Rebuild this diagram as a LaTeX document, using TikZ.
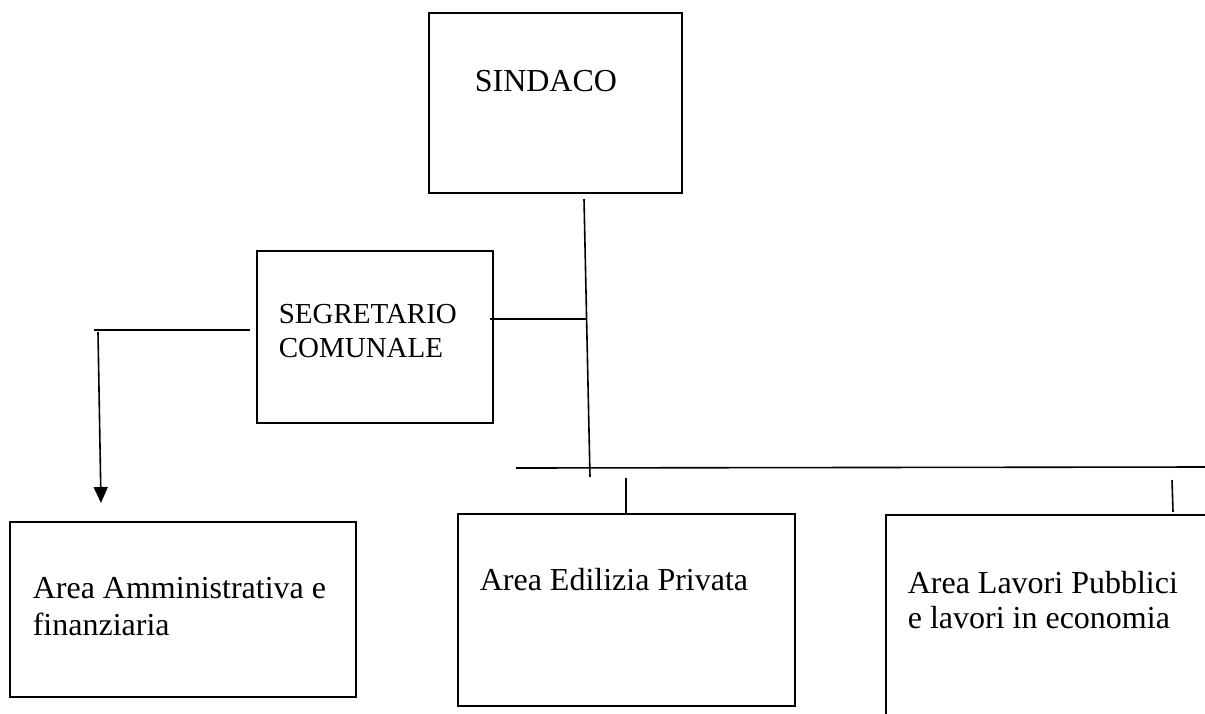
\documentclass[tikz,border=0pt]{standalone}
\usepackage{fontspec}
\setmainfont{Liberation Serif}
\usetikzlibrary{arrows.meta}
\begin{document}
\begin{tikzpicture}[x=0.5pt,y=-0.5pt,line width=0.8pt,
    box/.style={draw,rectangle,inner sep=0pt,outer sep=0pt},
    lbl/.style={anchor=base west,inner sep=0pt,align=left,font=\fontsize{16}{18}\selectfont}]
                \useasboundingbox (0,0) rectangle (1205,713);
                \clip (0,0) rectangle (1205,713);

                \draw node[box,minimum width=126.5pt,minimum height=90pt] (sindaco) at (555.5,103) {};
                \draw node[box,minimum width=118pt,minimum height=86pt] (segretario) at (375,337) {};
                \draw node[box,minimum width=173pt,minimum height=87.5pt] (amministrativa) at (183,609.5) {};
                \draw node[box,minimum width=168.5pt,minimum height=96pt] (edilizia) at (626.5,610) {};
                \draw node[box,minimum width=187pt,minimum height=122.5pt] (lavori) at (1073,637.5) {};

                % multi-line labels sit on the baseline of their last line
                \draw node[lbl] (sindacoT) at (474,91) {SINDACO};
                \draw node[lbl,font=\fontsize{14.5}{17}\selectfont] (segretarioT) at (278,357) {SEGRETARIO\\COMUNALE};
                \draw node[lbl,font=\fontsize{16}{18.5}\selectfont] (amministrativaT) at (32,635) {Area Amministrativa e\\finanziaria};
                \draw node[lbl] (ediliziaT) at (479,590) {Area Edilizia Privata};
                \draw node[lbl,font=\fontsize{16}{17.5}\selectfont] (lavoriT) at (907,628) {Area Lavori Pubblici\\e lavori in economia};

                \coordinate (trunkTop) at (584,199);
                \coordinate (trunkBot) at (590,477);
                \coordinate (trunkMid) at (586,319);
                \coordinate (segR) at (490,319);
                \coordinate (segL) at (250,330);
                \coordinate (leftEnd) at (94,330);
                \coordinate (arrowTop) at (98,332);
                \coordinate (arrowTip) at (101,503);
                \coordinate (barL) at (516,468);
                \coordinate (barR) at (1205,467);
                \coordinate (tickE) at (626,478);
                \coordinate (tickL) at (1172,480);

                \draw (trunkTop) -- (trunkBot);
                \draw (segR) -- (trunkMid);
                \draw (segL) -- (leftEnd);
                \draw[-{Triangle[length=8pt,width=7pt]}] (arrowTop) -- (arrowTip);
                \draw (barL) -- (barR);
                \draw (tickE) -- (tickE |- edilizia.north);
                \draw (tickL) -- (1173,512);
            \end{tikzpicture}
\end{document}
